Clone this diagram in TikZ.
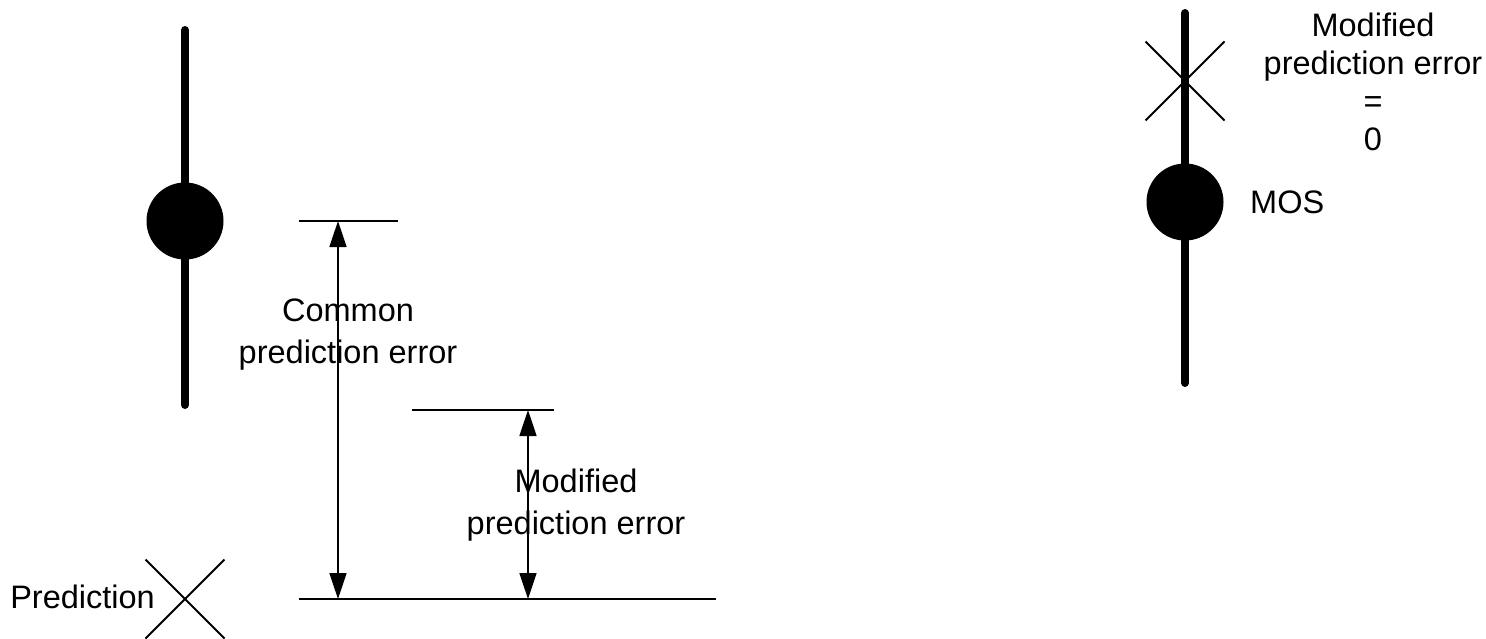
\documentclass[tikz,border=0pt]{standalone}
\usepackage{fontspec}
\setmainfont{Liberation Sans}
\usetikzlibrary{arrows.meta,shapes.misc}
\begin{document}
\begin{tikzpicture}[x=1pt,y=-1pt,
  stem/.style={line width=8pt,line cap=round},
  thin/.style={line width=2pt},
  dot/.style={circle,fill=black,minimum size=77pt,inner sep=0pt},
  xmark/.style={cross out,draw,line width=2pt,minimum width=77pt,minimum height=77pt,inner sep=0pt},
  dim/.style={line width=1.6pt,{Triangle[length=26pt,width=17pt]}-{Triangle[length=26pt,width=17pt]}},
  lbl/.style={font=\fontsize{32.5}{42}\selectfont,align=center,inner sep=0pt}]
\useasboundingbox (0,0) rectangle (1486,638);

% left scale
\coordinate (ltop) at (185,30);
\coordinate (lbot) at (185,405);
\draw[stem] (ltop) -- (lbot);
\node[dot] (lmos) at (185,221) {};
\node[xmark] (lpred) at (185,599) {};
\node[lbl,anchor=east] (lpredlbl) at (155,597) {Prediction};

% reference levels
\coordinate (mosL) at (299,221);
\coordinate (mosR) at (398,221);
\coordinate (modL) at (412,410);
\coordinate (modR) at (554,410);
\coordinate (predL) at (299,599);
\coordinate (predR) at (716,599);
\draw[thin] (mosL) -- (mosR);
\draw[thin] (modL) -- (modR);
\draw[thin] (predL) -- (predR);

% error spans
\coordinate (ca) at (338,221);
\coordinate (cb) at (338,599);
\coordinate (ma) at (528,410);
\coordinate (mb) at (528,599);
\draw[dim] (ca) -- (cb);
\draw[dim] (ma) -- (mb);
\node[lbl] (common) at (348,335) {Common\\prediction error};
\node[lbl] (modified) at (576,505) {Modified\\prediction error};

% right scale
\coordinate (rtop) at (1185,13);
\coordinate (rbot) at (1185,383);
\draw[stem] (rtop) -- (rbot);
\node[dot] (rmos) at (1185,202) {};
\node[xmark] (rpred) at (1185,81) {};
\node[lbl,anchor=west] (moslbl) at (1250,202) {MOS};
\node[lbl,font=\fontsize{32.5}{38}\selectfont] (zero) at (1373,82) {Modified\\prediction error\\=\\0};
\end{tikzpicture}
\end{document}
